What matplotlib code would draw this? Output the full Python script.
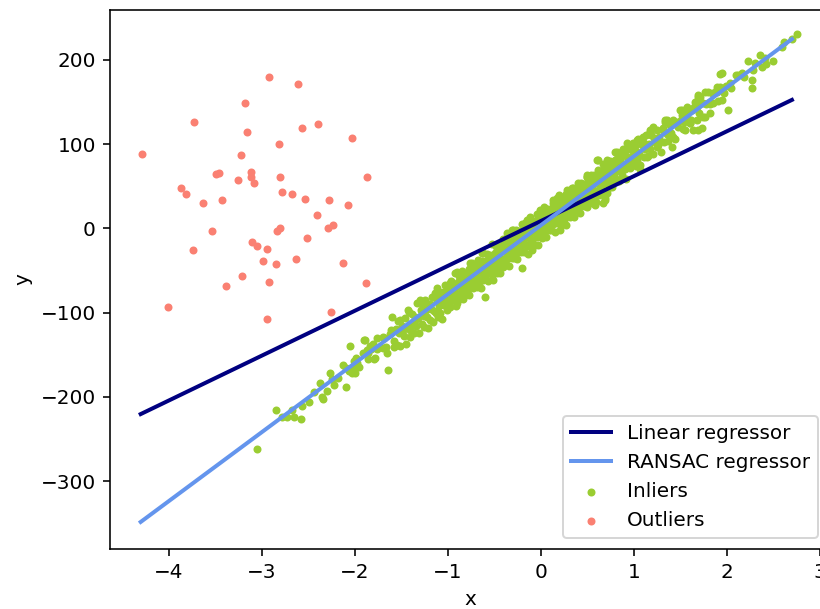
import numpy as np
import matplotlib
matplotlib.use("Agg")
import matplotlib.pyplot as plt

DPI = 144

# ---- fitted lines (evaluated at the ends of the x range) ----
line_x = [-4.30, 2.70]
linear_y = [-220.5, 152.6]
ransac_y = [-348.6, 224.8]

# ---- outliers ----
outlier_x = [-2.926, -2.614, -3.177, -3.726, -3.162, -2.568, -2.396, -2.033, -4.288, -2.818,
             -3.224, -3.492, -3.457, -3.116, -3.113, -3.084, -3.256, -2.801, -1.866, -3.869,
             -3.815, -3.632, -3.428, -2.786, -2.678, -2.535, -2.274, -2.070, -2.410, -3.535,
             -2.833, -2.801, -2.285, -2.238, -2.517, -3.102, -3.052, -2.941, -3.740, -2.990,
             -2.851, -2.629, -2.127, -3.210, -2.926, -3.382, -1.880, -4.005, -2.256, -2.941]
outlier_y = [180.2, 171.5, 149.3, 126.7, 114.8, 119.6, 123.6, 107.7, 88.7, 100.6,
             86.8, 64.3, 66.2, 66.6, 61.0, 54.3, 57.8, 61.0, 61.0, 47.6,
             40.5, 29.8, 33.4, 43.6, 40.5, 35.3, 33.4, 28.1, 15.9, -3.1,
             -3.1, 0.8, 0.8, 4.0, -11.8, -16.5, -20.5, -24.1, -25.3, -39.1,
             -42.6, -36.0, -40.7, -56.5, -63.7, -68.8, -65.2, -93.0, -99.6, -108.0]

# ---- inliers ----
inlier_x = [
    -3.055, -2.851, -2.786, -2.732, -2.672, -2.654, -2.578, -2.571, -2.374, -2.356,
    -2.339, -2.296, -2.267, -2.248, -2.220, -2.095, -2.095, -2.052, -2.033, -2.016,
    -1.987, -1.973, -1.898, -1.855, -1.837, -1.801, -1.783, -1.765, -1.694, -1.686,
    -1.640, -1.657,
    -1.998, -1.890, -1.872, -1.611, -1.594, -1.575, -1.514, -1.479, -1.425, -1.406,
    -1.353, -1.299, -1.281, -1.210, -1.191, -1.138, -1.102, -1.048, -1.012, -0.976,
    -0.941, -0.904, -0.904, -0.833, -0.815, -0.761, -0.726, -0.689, -0.635, -0.600,
    -0.582, -0.528, -0.511, -0.474,
    0.349, 0.278, 0.171, 0.134, 0.206, 0.027, -0.044, -0.116, -0.170, -0.224,
    -0.296, -0.331, -0.367, -0.205, -0.098, -0.439, -0.582, -0.654, -0.797, -0.618,
    -0.761, -0.403, 0.063, 0.099, 0.314, 0.386, 0.475, 0.547, 0.637, 0.709,
    0.709, 0.565, 0.690, 0.583, 0.494, 0.403,
    1.927, 1.891, 1.694, 1.766, 1.801, 1.676, 1.586, 1.497, 1.747, 1.694,
    1.604, 1.354, 1.317, 1.210, 1.174, 1.425, 1.246, 1.102, 1.048, 0.977,
    1.031, 0.924, 0.852, 0.798, 0.709, 0.618, 0.672, 1.139, 1.246, 0.494,
    0.403, 0.349, 0.690, 1.067, 0.744, 0.583,
    2.758, 2.698, 2.590, 2.357, 2.231, 2.500, 2.411, 2.375, 1.952, 2.124,
    2.160, 2.268, 2.268, 2.285, 2.034, 1.927, 1.891, 1.801, 1.945, 2.016,
    1.694, 1.658, 1.766, 1.569, 1.515, 1.730, 1.640, 1.551, 1.855, 1.819,
    1.712, 1.909, 1.335, 1.067, 0.995, 0.852, 0.709, 0.924, 1.174, 1.407,
    0.601, 0.816, 0.494, 0.278, 0.134, -0.009, -0.152, -0.313, 1.031, 0.672,
    -1.58, -1.56, -1.55, -1.53, -1.52, -1.51,
    -1.49, -1.47, -1.46, -1.45, -1.43, -1.42, -1.41,
    -1.39, -1.38, -1.36, -1.35, -1.34, -1.33, -1.32, -1.31,
    -1.29, -1.28, -1.27, -1.26, -1.25, -1.24, -1.23, -1.22, -1.21,
    -1.195, -1.19, -1.18, -1.17, -1.16, -1.15, -1.14, -1.13, -1.12, -1.11,
    -1.095, -1.09, -1.08, -1.07, -1.065, -1.06, -1.05, -1.04, -1.03, -1.02, -1.01,
    -0.995, -0.99, -0.98, -0.97, -0.96, -0.955, -0.95, -0.94, -0.93, -0.92, -0.91, -0.905,
    -0.895, -0.89, -0.88, -0.875, -0.87, -0.86, -0.85, -0.845, -0.84, -0.83, -0.82, -0.81, -0.805,
    -0.795, -0.79, -0.78, -0.775, -0.77, -0.76, -0.755, -0.75, -0.74, -0.73, -0.725, -0.72, -0.71, -0.705,
    -0.695, -0.69, -0.68, -0.675, -0.67, -0.66, -0.655, -0.65, -0.64, -0.63, -0.625, -0.62, -0.61, -0.605,
    -0.595, -0.59, -0.585, -0.58, -0.57, -0.565, -0.56, -0.55, -0.545, -0.54, -0.53, -0.525, -0.52, -0.51, -0.505,
    -0.495, -0.49, -0.485, -0.48, -0.47, -0.465, -0.46, -0.45, -0.445, -0.44, -0.43, -0.425, -0.42, -0.41, -0.405,
    -0.395, -0.39, -0.385, -0.38, -0.37, -0.365, -0.36, -0.35, -0.345, -0.34, -0.33, -0.325, -0.32, -0.31, -0.305,
    -0.295, -0.29, -0.285, -0.28, -0.27, -0.265, -0.26, -0.25, -0.245, -0.24, -0.23, -0.225, -0.22, -0.21, -0.205,
    -0.195, -0.19, -0.185, -0.18, -0.17, -0.165, -0.16, -0.15, -0.145, -0.14, -0.13, -0.125, -0.12, -0.11, -0.105,
    -0.095, -0.09, -0.085, -0.08, -0.07, -0.065, -0.06, -0.05, -0.045, -0.04, -0.03, -0.025, -0.02, -0.01, -0.005,
    0.005, 0.01, 0.015, 0.02, 0.03, 0.035, 0.04, 0.05, 0.055, 0.06, 0.07, 0.075, 0.08, 0.09, 0.095,
    0.105, 0.11, 0.115, 0.12, 0.13, 0.135, 0.14, 0.15, 0.155, 0.16, 0.17, 0.175, 0.18, 0.19, 0.195,
    0.205, 0.21, 0.215, 0.22, 0.23, 0.235, 0.24, 0.25, 0.255, 0.26, 0.27, 0.275, 0.28, 0.29, 0.295,
    0.305, 0.31, 0.315, 0.32, 0.33, 0.335, 0.34, 0.35, 0.355, 0.36, 0.37, 0.375, 0.38, 0.39, 0.395,
    0.405, 0.41, 0.415, 0.42, 0.43, 0.435, 0.44, 0.45, 0.455, 0.46, 0.47, 0.48, 0.49, 0.495,
    0.505, 0.51, 0.515, 0.52, 0.53, 0.535, 0.54, 0.55, 0.555, 0.56, 0.57, 0.58, 0.59, 0.595,
    0.605, 0.61, 0.62, 0.625, 0.63, 0.64, 0.645, 0.65, 0.66, 0.67, 0.68, 0.69, 0.695,
    0.705, 0.71, 0.72, 0.73, 0.735, 0.74, 0.75, 0.76, 0.77, 0.78, 0.79, 0.795,
    0.805, 0.81, 0.82, 0.83, 0.84, 0.85, 0.855, 0.86, 0.87, 0.88, 0.89,
    0.905, 0.91, 0.92, 0.93, 0.94, 0.95, 0.96, 0.97, 0.98, 0.99,
    1.005, 1.01, 1.02, 1.03, 1.04, 1.05, 1.06, 1.07, 1.085,
    1.105, 1.115, 1.12, 1.135, 1.15, 1.16, 1.175, 1.19,
    1.205, 1.22, 1.235, 1.25, 1.26, 1.275, 1.29,
    1.31, 1.325, 1.34, 1.355, 1.37, 1.39,
    1.405, 1.42, 1.44, 1.46, 1.48,
    1.51, 1.53, 1.56, 1.58, 1.62, 1.65, 1.68,
    1.74, 1.82, 1.88, 1.97,
    -1.62, -1.66, -1.70, -1.73, -1.76, -1.79, -1.82, -1.86, -1.91, -1.95, -2.01, -2.06, -2.13, -2.18, -2.44, -2.49,
    1.52, 1.545, 1.57, 1.6, 1.63, 1.66, 1.7, 1.72, 1.78, 1.84, 1.9, 1.99, 2.05, 2.1, 2.19, 2.3, 2.42, 2.62,
]
inlier_y = [
    -262.0, -215.3, -223.6, -224.4, -215.7, -223.6, -226.4, -210.9, -184.0, -199.9,
    -202.3, -192.8, -172.1, -179.2, -186.0, -188.0, -166.2, -139.7, -172.1, -164.3,
    -154.3, -160.2, -132.5, -148.3, -139.7, -137.3, -154.3, -143.6, -142.4, -130.5,
    -168.2, -148.3,
    -172.1, -132.5, -144.4, -120.7, -104.9, -140.5, -108.8, -120.7, -96.9, -128.6,
    -108.8, -85.0, -100.8, -118.6, -93.0, -77.1, -104.9, -85.0, -96.9, -65.2,
    -73.2, -89.0, -51.4, -61.3, -79.1, -41.4, -65.2, -53.3, -29.6, -81.1,
    -47.4, -39.5, -61.3, -25.7,
    45.6, 41.7, 35.7, 25.8, -1.9, 21.8, 10.0, 13.9, 6.1, -5.8,
    -1.9, -13.8, -25.7, -47.4, -25.7, -25.7, -41.4, -45.5, -61.3, -61.3,
    -69.2, -45.5, 6.1, 13.9, 13.9, 21.8, 43.6, 49.5, 55.5, 53.6,
    41.7, 37.6, 35.7, 27.8, 25.8, 31.7,
    183.4, 168.3, 158.4, 162.4, 148.6, 144.5, 140.6, 140.6, 132.7, 116.9,
    124.8, 128.7, 118.9, 120.8, 114.8, 108.9, 105.0, 108.9, 105.0, 93.1,
    85.2, 101.1, 85.2, 91.1, 77.3, 81.2, 69.4, 85.2, 97.0, 61.4,
    53.6, 47.6, 33.7, 70.0, 49.5, 41.7,
    230.5, 224.6, 215.8, 205.9, 199.2, 199.2, 202.0, 192.0, 184.2, 182.2,
    184.2, 176.2, 166.4, 188.1, 172.3, 168.3, 162.4, 162.4, 152.5, 140.6,
    156.4, 144.5, 132.7, 138.6, 140.6, 118.9, 116.9, 116.9, 148.6, 136.7,
    156.4, 166.4, 128.7, 105.0, 101.1, 89.2, 81.2, 77.3, 116.9, 97.0,
    81.2, 91.1, 61.4, 45.6, 33.7, 21.8, 10.0, -1.9, 105.0, 29.8,
    -133.8, -119.2, -138.3, -109.7, -123.9, -139.1,
    -115.4, -127.8, -107.0, -137.2, -117.5, -98.7, -120.9,
    -116.2, -101.4, -123.8, -105.0, -116.1, -88.3, -106.5, -124.7,
    -97.1, -113.2, -91.4, -104.6, -116.8, -85.0, -97.1, -105.3, -89.5,
    -108.3, -89.9, -96.0, -81.2, -111.4, -97.6, -81.8, -100.0, -86.1, -71.3,
    -92.1, -75.7, -99.9, -81.0, -84.6, -107.2, -75.4, -90.6, -66.8, -83.9, -92.1,
    -72.9, -87.5, -75.7, -92.8, -63.0, -78.6, -66.2, -85.4, -73.6, -52.7, -91.9, -67.5,
    -77.7, -63.3, -83.5, -57.1, -69.7, -77.8, -62.0, -50.6, -84.2, -69.4, -54.6, -71.7, -61.3,
    -74.5, -58.1, -66.3, -47.9, -79.5, -59.6, -51.2, -67.8, -41.0, -60.2, -70.8, -50.4, -62.5, -44.1,
    -56.3, -69.9, -44.1, -60.7, -37.3, -51.5, -62.0, -45.6, -70.8, -39.0, -53.6, -29.2, -57.4, -43.9,
    -59.1, -38.7, -48.3, -30.9, -62.1, -42.7, -51.3, -31.4, -43.0, -53.6, -34.8, -18.4, -46.0, -54.2, -34.8,
    -46.9, -29.5, -39.1, -20.7, -52.9, -40.5, -25.1, -45.3, -31.8, -53.4, -20.6, -36.2, -26.8, -44.0, -12.6,
    -35.8, -23.3, -43.9, -15.5, -27.7, -36.3, -5.9, -29.1, -16.7, -44.2, -21.4, -31.0, -8.6, -34.8, -15.4,
    -22.6, -35.2, -9.7, -25.3, -2.5, -29.1, -14.7, -35.9, -9.5, -19.1, -3.2, -23.8, -13.4, -27.6, 5.8,
    -17.4, -3.0, -28.6, -7.1, -18.3, 3.1, -10.5, -20.7, -2.3, -29.9, 8.0, -10.6, -4.2, -16.4, 5.0,
    -13.2, 1.2, -18.4, 9.0, -4.1, -19.7, 5.7, -6.5, 16.9, -10.7, 4.1, -19.4, 11.0, -1.2, 17.2,
    -3.0, 10.4, -11.2, 16.2, 5.1, -3.5, 24.9, 4.7, 16.1, -10.5, 11.3, 1.7, 23.2, -2.0, 15.4,
    8.2, -2.4, 22.0, 12.4, 30.3, 5.7, 18.1, -4.1, 23.3, 10.7, 29.5, 5.9, 19.3, 16.2, 39.6,
    10.4, 25.8, 4.2, 34.6, 20.4, 14.9, 32.3, 10.1, 26.5, 19.9, 40.7, 4.1, 32.5, 18.4, 30.8,
    22.6, 40.0, 14.4, 30.8, 19.6, 48.0, 28.4, 40.3, 13.7, 37.1, 25.9, 48.3, 21.7, 41.5, 35.0,
    45.8, 25.2, 40.6, 18.0, 53.8, 34.2, 46.6, 31.5, 39.9, 53.3, 26.1, 46.9, 36.7, 63.1,
    42.0, 55.4, 31.8, 51.2, 39.0, 63.4, 46.8, 30.6, 57.1, 44.5, 63.3, 40.1, 53.9, 31.3,
    59.2, 44.6, 69.4, 52.8, 40.2, 65.0, 50.4, 58.8, 45.7, 76.5, 55.3, 67.1, 41.5,
    54.3, 72.8, 61.6, 49.4, 68.8, 80.2, 56.0, 68.8, 48.7, 75.5, 64.3, 80.7,
    58.5, 73.9, 68.8, 85.6, 56.4, 80.2, 67.6, 75.0, 62.9, 94.7, 73.5,
    86.7, 70.1, 59.0, 84.8, 79.6, 94.4, 72.2, 85.0, 78.9, 94.7,
    81.9, 98.3, 74.1, 91.0, 81.8, 106.6, 88.4, 75.2, 99.5,
    85.1, 100.9, 94.3, 110.6, 85.8, 100.6, 94.8, 111.1,
    88.3, 107.5, 101.8, 117.0, 98.8, 109.0, 91.3,
    116.9, 102.1, 126.4, 112.6, 103.8, 122.4,
    112.7, 128.9, 106.5, 126.2, 120.8,
    129.3, 117.9, 139.4, 130.0, 129.3, 143.7, 129.2,
    149.1, 147.7, 163.6, 160.9,
    -125.1, -140.4, -128.6, -141.1, -130.5, -155.0, -143.5, -154.7, -147.8, -165.1, -158.0, -169.1, -162.8, -177.9, -194.2, -206.3,
    134.1, 126.1, 144.2, 125.6, 140.1, 149.6, 136.8, 148.5, 147.4, 161.3, 151.2, 169.6, 166.5, 181.6, 180.0, 196.0, 194.8, 221.2,
]

fig = plt.figure(figsize=(820 / DPI, 609 / DPI), dpi=DPI)
ax = fig.add_axes([110 / 820, 59.6 / 609, 721 / 820, 539.7 / 609])

ax.scatter(inlier_x, inlier_y, color="yellowgreen", marker=".", label="Inliers")
ax.scatter(outlier_x, outlier_y, color="salmon", marker=".", label="Outliers")
ax.plot(line_x, linear_y, color="navy", linewidth=2, label="Linear regressor")
ax.plot(line_x, ransac_y, color="cornflowerblue", linewidth=2, label="RANSAC regressor")

ax.set_xlim(-4.63, 3.12)
ax.set_ylim(-381.2, 259.7)
ax.set_xticks([-4, -3, -2, -1, 0, 1, 2, 3])
ax.set_yticks([-300, -200, -100, 0, 100, 200])
ax.set_xlabel("x")
ax.set_ylabel("y")

handles, labels = ax.get_legend_handles_labels()
order = [labels.index(name) for name in
         ["Linear regressor", "RANSAC regressor", "Inliers", "Outliers"]]
ax.legend([handles[i] for i in order], [labels[i] for i in order],
          loc="lower right", bbox_to_anchor=(0.982, 0.021), borderaxespad=0)

fig.savefig("out.png", dpi=DPI)
